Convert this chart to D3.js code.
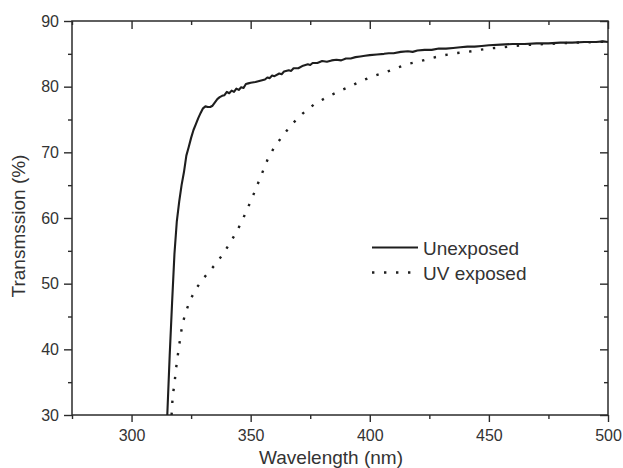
<!DOCTYPE html>
<html>
<head>
<meta charset="utf-8">
<script src="https://cdn.jsdelivr.net/npm/d3@7"></script>
<style>
  html, body { margin: 0; padding: 0; background: #fff; }
  svg { display: block; }
  text { font-family: "Liberation Sans", Arial, Helvetica, sans-serif; }
</style>
</head>
<body>
<svg id="chart" width="623" height="468"></svg>
<script>
// ---- data ----
const unexposedWl = [315,316,317,318,319,320,321,322,323,324,325,326,327,328,329,330,331,332,333,334,335,336,337,338,339,340,341,342,343,344,345,346,347,348,349,350,352,354,356,357,358,359,360,362,363,364,366,367,368,370,372,374,375,376,378,380,382,384,386,388,390,392,394,396,398,400,403,406,408,410,413,416,418,420,423,426,429,432,435,438,441,444,447,450,455,460,465,470,475,480,485,490,495,498,500];
const unexposedT  = [30,39,47,54.5,59.5,62.5,65,67,69.5,70.8,72.2,73.4,74.3,75.2,76,76.7,77,76.9,76.9,77.1,77.6,78.1,78.4,78.6,78.7,79.2,79,79.4,79.2,79.7,79.5,79.9,79.8,80.4,80.5,80.6,80.7,80.9,81.1,81.4,81.3,81.7,81.6,82,81.9,82.3,82.5,82.4,82.8,82.8,83.2,83.4,83.3,83.6,83.6,83.9,83.8,84,84.1,84,84.3,84.3,84.5,84.6,84.7,84.8,84.9,85,85.1,85.1,85.3,85.4,85.3,85.5,85.6,85.6,85.8,85.8,85.9,86,86.1,86.1,86.2,86.3,86.4,86.5,86.5,86.6,86.6,86.7,86.7,86.8,86.8,86.9,86.8];

const uvWl = [316.8,317.0,317.3,318.0,318.5,319.1,319.8,320.5,321.3,322.6,324.4,326.8,330.4,334.6,338.4,341.5,344.4,346.8,349.0,351.1,353.1,355.1,357.1,359.8,363.2,367.1,371.8,376.6,381.5,386.5,391.5,396.6,401.5,406.7,411.6,416.5,421.4,426.4,431.3,436.2,441.1,446.0,451.2,456.1,461.1,466.3,471.5,480,490,500];
const uvT  = [30,31.2,33,34.7,36.5,38.3,40.1,41.9,43.7,45.5,47.3,49.1,50.9,52.7,54.5,56.3,58.1,59.9,61.7,63.5,65.3,67.1,68.9,70.7,72.4,74.2,75.9,77.3,78.3,79.2,80.0,80.9,81.6,82.2,82.9,83.5,83.9,84.4,84.8,85.1,85.3,85.6,85.85,86.0,86.2,86.35,86.45,86.6,86.75,86.85];

const seriesNames = ["Unexposed", "UV exposed"];
const xMajorTicks = [300, 350, 400, 450, 500];
const xMinorTicks = [275, 325, 375, 425, 475];
const yMajorTicks = [30, 40, 50, 60, 70, 80, 90];
const yMinorTicks = [35, 45, 55, 65, 75, 85];
const xTitle = "Wavelength (nm)";
const yTitle = "Transmssion (%)";

// ---- layout ----
const margin = { left: 72, right: 15, top: 21, bottom: 53 };
const W = 623, H = 468;
const iw = W - margin.left - margin.right;
const ih = H - margin.top - margin.bottom;
const ink = "#2b2b2b";
const textCol = "#333";

const svg = d3.select("#chart");
const g = svg.append("g").attr("transform", `translate(${margin.left},${margin.top})`);

const x = d3.scaleLinear().domain([275, 500]).range([0, iw]);
const y = d3.scaleLinear().domain([30, 90]).range([ih, 0]);

g.append("defs").append("clipPath").attr("id", "clip")
  .append("rect").attr("x", 0).attr("y", 0).attr("width", iw).attr("height", ih);

function styleAxis(sel) {
  sel.select(".domain").remove();
  sel.selectAll("line").attr("stroke", ink).attr("stroke-width", 1.4);
  sel.selectAll("text").attr("fill", textCol).style("font-size", "16px")
     .style("font-family", '"Liberation Sans", Arial, sans-serif');
}

// bottom
g.append("g").attr("transform", `translate(0,${ih})`)
  .call(d3.axisBottom(x).tickValues(xMajorTicks).tickSize(7).tickPadding(8).tickFormat(d3.format("d")))
  .call(styleAxis);
g.append("g").attr("transform", `translate(0,${ih})`)
  .call(d3.axisBottom(x).tickValues(xMinorTicks).tickSize(4).tickFormat(""))
  .call(styleAxis);
// top (inward)
g.append("g").call(d3.axisBottom(x).tickValues(xMajorTicks).tickSize(8).tickFormat("")).call(styleAxis);
g.append("g").call(d3.axisBottom(x).tickValues(xMinorTicks).tickSize(4).tickFormat("")).call(styleAxis);
// left
g.append("g")
  .call(d3.axisLeft(y).tickValues(yMajorTicks).tickSize(8).tickPadding(5).tickFormat(d3.format("d")))
  .call(styleAxis);
g.append("g").call(d3.axisLeft(y).tickValues(yMinorTicks).tickSize(4).tickFormat("")).call(styleAxis);
// right (inward)
g.append("g").attr("transform", `translate(${iw},0)`)
  .call(d3.axisLeft(y).tickValues(yMajorTicks).tickSize(8).tickFormat("")).call(styleAxis);
g.append("g").attr("transform", `translate(${iw},0)`)
  .call(d3.axisLeft(y).tickValues(yMinorTicks).tickSize(4).tickFormat("")).call(styleAxis);

// frame
g.append("rect").attr("x", 0).attr("y", 0).attr("width", iw).attr("height", ih)
  .attr("fill", "none").attr("stroke", ink).attr("stroke-width", 1.5);

// lines
const line = d3.line().x(d => x(d[0])).y(d => y(d[1]));
const unexposed = unexposedWl.map((w, i) => [w, unexposedT[i]]);
const uv = uvWl.map((w, i) => [w, uvT[i]]);

g.append("path").datum(unexposed).attr("clip-path", "url(#clip)")
  .attr("d", line).attr("fill", "none").attr("stroke", "#1e1e1e").attr("stroke-width", 2.1)
  .attr("stroke-linejoin", "round");
g.append("path").datum(uv).attr("clip-path", "url(#clip)")
  .attr("d", line).attr("fill", "none").attr("stroke", "#1e1e1e").attr("stroke-width", 2.4)
  .attr("stroke-dasharray", "2.4 9.6");

// legend (pixel layout)
const legX0 = 372 - margin.left, legX1 = 418 - margin.left;
const legY = [247.5 - margin.top, 272.5 - margin.top];
g.append("line").attr("x1", legX0).attr("x2", legX1).attr("y1", legY[0]).attr("y2", legY[0])
  .attr("stroke", "#1e1e1e").attr("stroke-width", 2.1);
g.append("line").attr("x1", legX0).attr("x2", legX1).attr("y1", legY[1]).attr("y2", legY[1])
  .attr("stroke", "#1e1e1e").attr("stroke-width", 2.4).attr("stroke-dasharray", "2.4 9.6");
seriesNames.forEach((name, i) => {
  g.append("text").attr("x", legX1 + 5).attr("y", legY[i] + 7)
    .attr("fill", textCol).style("font-size", "19px").text(name);
});

// titles
svg.append("text").attr("x", 331).attr("y", 464).attr("text-anchor", "middle")
  .attr("fill", textCol).style("font-size", "19px").text(xTitle);
svg.append("text").attr("transform", `translate(25,226) rotate(-90)`).attr("text-anchor", "middle")
  .attr("fill", textCol).style("font-size", "19px").text(yTitle);
</script>
</body>
</html>
